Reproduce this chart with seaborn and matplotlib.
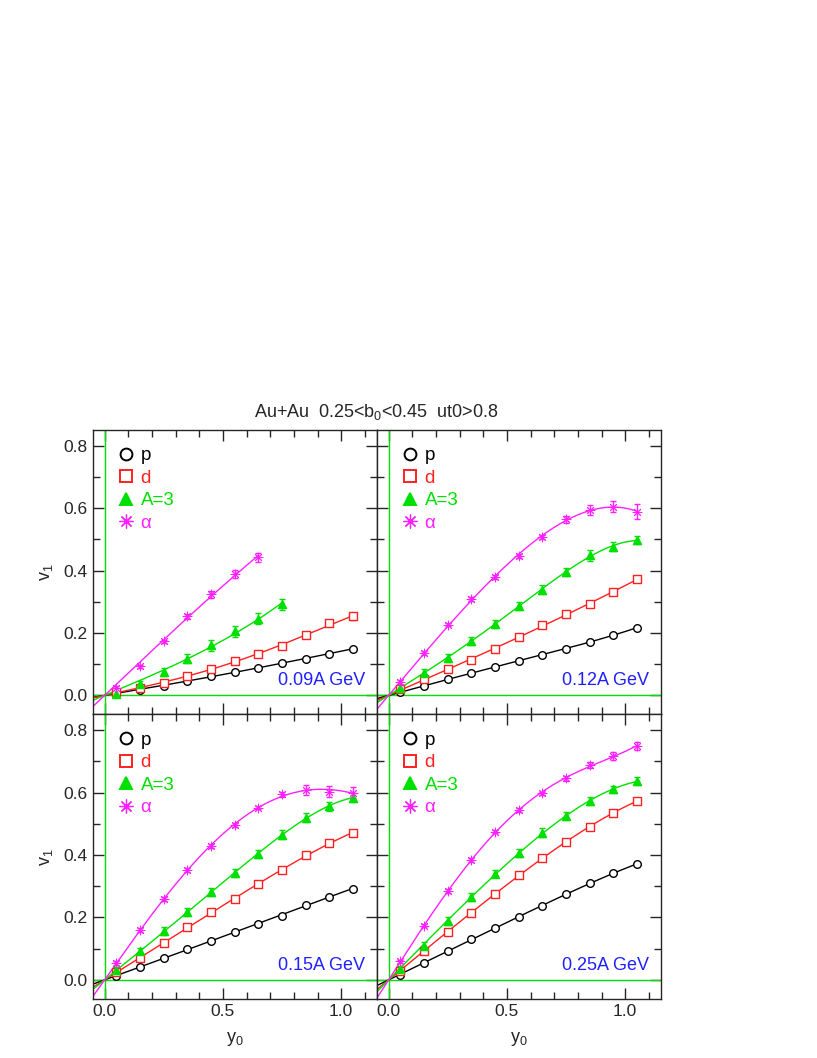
import numpy as np
import pandas as pd
import matplotlib
matplotlib.use('Agg')
import matplotlib.pyplot as plt
from matplotlib.lines import Line2D
from matplotlib.ticker import MultipleLocator, FormatStrFormatter
import seaborn as sns

# ---- data ----
y0 = [0.05, 0.15, 0.25, 0.35, 0.45, 0.55, 0.65, 0.75, 0.85, 0.95, 1.05]
energies = ['0.09A GeV', '0.12A GeV', '0.15A GeV', '0.25A GeV']
species = ['p', 'd', 'A=3', 'α']

# 0.09A GeV
p_009 = [0.010, 0.018, 0.030, 0.046, 0.061, 0.075, 0.088, 0.104, 0.118, 0.133, 0.150]
d_009 = [0.010, 0.025, 0.041, 0.062, 0.086, 0.109, 0.133, 0.158, 0.193, 0.231, 0.253]
a3_009 = [0.005, 0.037, 0.075, 0.118, 0.160, 0.205, 0.246, 0.292]
al_009 = [0.024, 0.093, 0.173, 0.253, 0.324, 0.390, 0.442]
a3_err_009 = [0.008, 0.010, 0.012, 0.015, 0.017, 0.018, 0.018, 0.017]
al_err_009 = [0.006, 0.006, 0.006, 0.008, 0.011, 0.013, 0.015]
d_err_009 = [0.002, 0.002, 0.002, 0.003, 0.003, 0.003, 0.003, 0.004, 0.005, 0.010, 0.010]

# 0.12A GeV
p_012 = [0.011, 0.030, 0.051, 0.072, 0.091, 0.111, 0.130, 0.150, 0.171, 0.193, 0.217]
d_012 = [0.019, 0.051, 0.086, 0.114, 0.148, 0.187, 0.225, 0.260, 0.292, 0.332, 0.372]
a3_012 = [0.024, 0.073, 0.120, 0.174, 0.229, 0.287, 0.339, 0.396, 0.449, 0.476, 0.497]
al_012 = [0.043, 0.136, 0.227, 0.308, 0.379, 0.447, 0.508, 0.564, 0.594, 0.604, 0.588]
a3_err_012 = [0.008, 0.012, 0.013, 0.013, 0.013, 0.013, 0.013, 0.013, 0.017, 0.015, 0.013]
al_err_012 = [0.006, 0.006, 0.006, 0.006, 0.006, 0.006, 0.006, 0.011, 0.015, 0.018, 0.024]
d_err_012 = [0.002] * 11

# 0.15A GeV
p_015 = [0.012, 0.041, 0.070, 0.098, 0.126, 0.153, 0.179, 0.206, 0.241, 0.267, 0.292]
d_015 = [0.025, 0.071, 0.119, 0.169, 0.217, 0.260, 0.306, 0.351, 0.399, 0.439, 0.471]
a3_015 = [0.032, 0.092, 0.156, 0.217, 0.281, 0.342, 0.404, 0.465, 0.520, 0.556, 0.584]
al_015 = [0.053, 0.161, 0.260, 0.351, 0.429, 0.497, 0.552, 0.594, 0.608, 0.603, 0.600]
a3_err_015 = [0.008, 0.010, 0.012, 0.012, 0.012, 0.013, 0.013, 0.014, 0.015, 0.015, 0.013]
al_err_015 = [0.006, 0.006, 0.006, 0.006, 0.006, 0.006, 0.006, 0.008, 0.016, 0.018, 0.018]
d_err_015 = [0.002] * 11

# 0.25A GeV
p_025 = [0.017, 0.055, 0.094, 0.130, 0.166, 0.201, 0.238, 0.274, 0.309, 0.343, 0.371]
d_025 = [0.030, 0.092, 0.153, 0.215, 0.276, 0.336, 0.390, 0.442, 0.490, 0.535, 0.573]
a3_025 = [0.035, 0.110, 0.188, 0.265, 0.340, 0.407, 0.472, 0.525, 0.572, 0.610, 0.637]
al_025 = [0.059, 0.174, 0.284, 0.385, 0.475, 0.544, 0.597, 0.645, 0.688, 0.717, 0.749]
a3_err_025 = [0.008, 0.010, 0.012, 0.012, 0.012, 0.013, 0.013, 0.014, 0.013, 0.012, 0.013]
al_err_025 = [0.006, 0.006, 0.006, 0.006, 0.006, 0.006, 0.006, 0.009, 0.010, 0.012, 0.013]
d_err_025 = [0.002] * 11

panels = [
    (p_009, d_009, a3_009, al_009, d_err_009, a3_err_009, al_err_009),
    (p_012, d_012, a3_012, al_012, d_err_012, a3_err_012, al_err_012),
    (p_015, d_015, a3_015, al_015, d_err_015, a3_err_015, al_err_015),
    (p_025, d_025, a3_025, al_025, d_err_025, a3_err_025, al_err_025),
]

colors = {'p': 'black', 'd': '#ff2020', 'A=3': '#00e000', 'α': '#ff20ff'}
markers = {'p': 'o', 'd': 's', 'A=3': '^', 'α': (8, 2, 0)}
mfill = {'p': 'white', 'd': 'white', 'A=3': '#00e000', 'α': '#ff20ff'}
msize = {'p': 30, 'd': 28, 'A=3': 34, 'α': 40}
mlw = {'p': 1, 'd': 1, 'A=3': 1, 'α': 0.7}

sns.set_style('ticks')
plt.rcParams['font.family'] = ['Liberation Sans', 'DejaVu Sans']
plt.rcParams['mathtext.fontset'] = 'custom'
plt.rcParams['mathtext.rm'] = 'Liberation Sans'
plt.rcParams['mathtext.it'] = 'Liberation Sans'

fig, axes = plt.subplots(2, 2, figsize=(8.17, 10.58), dpi=100, sharex=True, sharey=True)
fig.subplots_adjust(left=0.1135, right=0.8087, top=0.5936, bottom=0.0558,
                    hspace=0, wspace=0)


def odd_fit(x, y):
    # least squares fit v1 = a*y + b*y^3 (+ c*y^5) through the origin
    x = np.asarray(x); y = np.asarray(y)
    pw = [1, 3, 5] if len(x) > 8 else [1, 3]
    coef, *_ = np.linalg.lstsq(np.column_stack([x**k for k in pw]), y, rcond=None)
    xs = np.linspace(-0.06, x.max(), 200)
    return xs, np.column_stack([xs**k for k in pw]) @ coef


for ax, energy, (p, d, a3, al, de, a3e, ale) in zip(axes.flat, energies, panels):
    vals = {'p': (p, [0.002] * len(p)), 'd': (d, de), 'A=3': (a3, a3e), 'α': (al, ale)}
    ax.axvline(0, color='#00e000', lw=1, zorder=1)
    ax.axhline(0, color='#00e000', lw=1, zorder=1)
    for sp in species:
        v, e = vals[sp]
        x = y0[:len(v)]
        xs, fit = odd_fit(x, v)
        df_fit = pd.DataFrame({'y0': xs, 'v1': fit})
        sns.lineplot(data=df_fit, x='y0', y='v1', color=colors[sp], lw=1, ax=ax, zorder=2)
        ax.errorbar(x, v, yerr=e, fmt='none', ecolor=colors[sp], elinewidth=1,
                    capsize=2.5, capthick=1, zorder=3)
        df_pts = pd.DataFrame({'y0': x, 'v1': v})
        sns.scatterplot(data=df_pts, x='y0', y='v1', marker=markers[sp], s=msize[sp],
                        facecolor=mfill[sp], edgecolor=colors[sp], linewidth=mlw[sp],
                        ax=ax, zorder=4)
    handles = [Line2D([], [], ls='none', marker=markers[sp], markersize=8.5 if sp != 'α' else 10,
                      markerfacecolor=mfill[sp], markeredgecolor=colors[sp],
                      markeredgewidth=1.4 if sp != 'α' else 0.9)
               for sp in species]
    ax.legend(handles, species, loc='upper left', bbox_to_anchor=(0.02, 0.985), frameon=False,
              fontsize=13.5, handletextpad=0.05, labelspacing=0.28, borderpad=0.2,
              handlelength=1.5, labelcolor=[colors[sp] for sp in species])
    ax.text(1.1, 0.032, energy, color='#2020ff', fontsize=13, ha='right', va='baseline')

    ax.set_xlim(-0.05, 1.15)
    ax.set_ylim(-0.061, 0.85)
    ax.xaxis.set_major_locator(MultipleLocator(0.5))
    ax.xaxis.set_minor_locator(MultipleLocator(0.1))
    ax.yaxis.set_major_locator(MultipleLocator(0.2))
    ax.yaxis.set_minor_locator(MultipleLocator(0.1))
    ax.tick_params(which='both', direction='in', top=True, right=True, width=1, labelsize=12.5)
    ax.tick_params(which='major', length=8)
    ax.tick_params(which='minor', length=5)
    ax.xaxis.set_major_formatter(FormatStrFormatter('%.1f'))
    ax.yaxis.set_major_formatter(FormatStrFormatter('%.1f'))
    for s in ax.spines.values():
        s.set_linewidth(1)
    ax.set_xlabel('')
    ax.set_ylabel('')

for ax in axes[:, 0]:
    ax.set_ylabel('v$_1$', fontsize=13, labelpad=6)
for ax in axes[1, :]:
    ax.set_xlabel('y$_0$', fontsize=13, labelpad=8)

fig.text(0.4611, 0.601, 'Au+Au  0.25<b$_0$<0.45  ut0>0.8', ha='center', va='bottom', fontsize=13)

fig.savefig('out.png', dpi=100)
